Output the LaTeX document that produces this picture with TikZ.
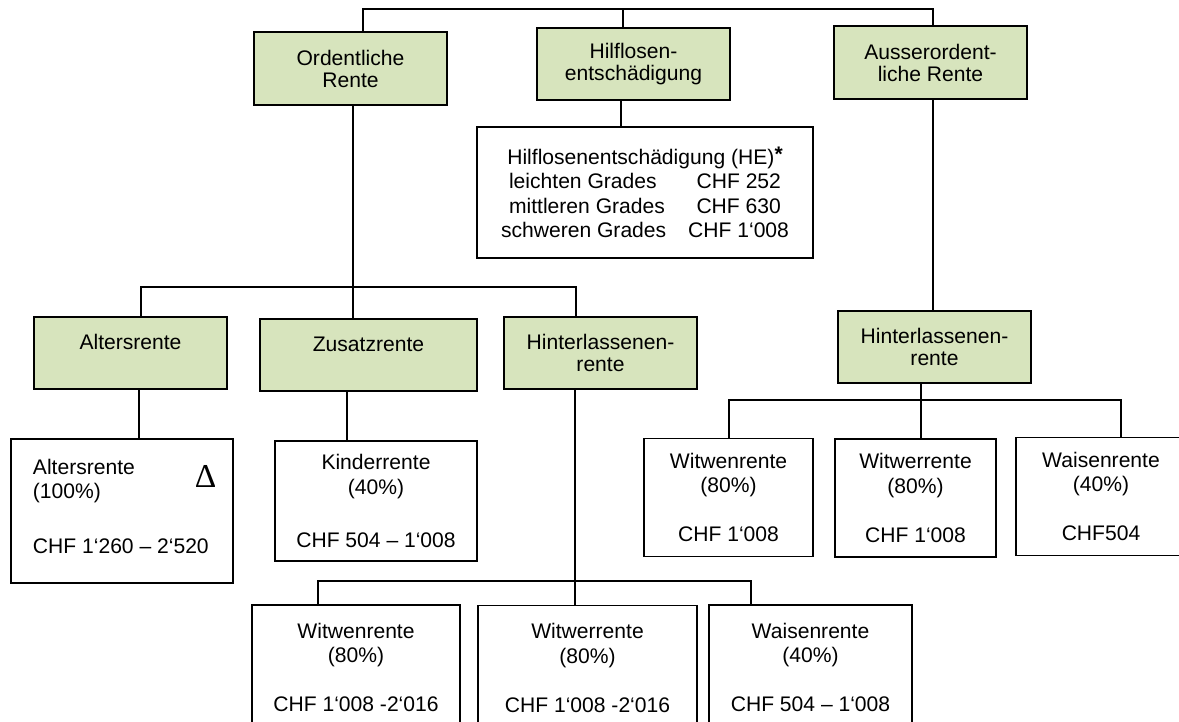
\documentclass[tikz,border=0pt]{standalone}
\usepackage{fontspec}
\setmainfont{Liberation Sans}
\newfontfamily\deltafont{Liberation Serif}
\definecolor{rentgruen}{RGB}{215,228,189}

\begin{document}
\begin{tikzpicture}[x=0.02cm,y=-0.02cm,line width=1.1pt,line cap=rect,
  rente/.style={draw,fill=rentgruen,align=center,inner sep=0pt,minimum width=3.86cm,minimum height=1.45cm,font=\fontsize{12}{12.5}\selectfont},
  betrag/.style={draw,fill=white,align=center,inner sep=0pt,font=\fontsize{12}{14}\selectfont}]
\useasboundingbox (0,0) rectangle (1179,722);
\clip (0,0) rectangle (1179,722);

\node[rente] (ordRente) at (350.5,68.5) {Ordentliche\\Rente};
\node[rente] (hilf) at (633.5,64) {Hilflosen-\\entschädigung};
\node[rente] (ausRente) at (930.5,62.5) {Ausserordent-\\liche Rente};
\node[rente] (alters) at (130.5,353) {Altersrente\\\mbox{}};
\node[rente,minimum width=4.34cm] (zusatz) at (368.5,355) {Zusatzrente\\\mbox{}};
\node[rente] (hinter) at (600.5,353) {Hinterlassenen-\\rente};
\node[rente] (hinterA) at (934.5,347) {Hinterlassenen-\\rente};

\node[betrag,minimum width=6.72cm,minimum height=2.62cm] (heBetrag) at (645,192.5)
  {Hilflosenentschädigung (HE)\raisebox{1.5pt}{\textbf{*}}\\leichten Grades\hspace{22.7pt}CHF 252\\mittleren Grades\hspace{18pt}CHF 630\\schweren Grades\hspace{12.5pt}CHF 1‘008};
\node[betrag,minimum width=4.44cm,minimum height=2.88cm] (altersBetrag) at (122,511) {};
\node[anchor=north west,align=left,inner sep=0pt,font=\fontsize{12}{14}\selectfont] (altersText) at (32,458)
  {Altersrente\\(100\%)\\[17pt]CHF 1‘260 – 2‘520};
\node[inner sep=0pt,font=\deltafont\fontsize{19}{19}\selectfont] (delta) at (205.5,476) {Δ};
\node[betrag,minimum width=4.04cm,minimum height=2.4cm] (kinder) at (376,501) {Kinderrente\\(40\%)\\[16pt]CHF 504 – 1‘008};

\node[betrag,minimum width=3.38cm,minimum height=2.36cm] (witwenA) at (728.5,497.5) {Witwenrente\\(80\%)\\[14pt]CHF 1‘008};
\node[betrag,minimum width=3.22cm,minimum height=2.36cm] (witwerA) at (915.5,498) {Witwerrente\\(80\%)\\[14pt]CHF 1‘008};
\node[betrag,minimum width=3.4cm,minimum height=2.36cm] (waisenA) at (1101,496.5) {Waisenrente\\(40\%)\\[14pt]CHF504};

\node[betrag,minimum width=4.16cm,minimum height=2.5cm] (witwen) at (356,667.5) {Witwenrente\\(80\%)\\[14pt]CHF 1‘008 -2‘016};
\node[betrag,minimum width=4.38cm,minimum height=2.5cm] (witwer) at (587.5,668) {Witwerrente\\(80\%)\\[14pt]CHF 1‘008 -2‘016};
\node[betrag,minimum width=4.06cm,minimum height=2.5cm] (waisen) at (810.5,667.5) {Waisenrente\\(40\%)\\[14pt]CHF 504 – 1‘008};

\coordinate (oben1) at (363,9);
\coordinate (oben2) at (623,9);
\coordinate (oben3) at (933,9);
\coordinate (mitte1) at (141,287);
\coordinate (mitte2) at (576,287);
\coordinate (rechts1) at (729,400);
\coordinate (rechts2) at (1121,400);
\coordinate (unten1) at (318,581);
\coordinate (unten2) at (751,581);
\draw (oben1) -- (oben3) (mitte1) -- (mitte2) (rechts1) -- (rechts2) (unten1) -- (unten2);
\foreach \p/\n in {oben1/ordRente,oben2/hilf,oben3/ausRente,mitte1/alters,mitte2/hinter,rechts1/witwenA,rechts2/waisenA,unten1/witwen,unten2/waisen}
  \draw (\p) -- (\p |- \n.north);
\foreach \x/\von/\nach in {621/hilf/heBetrag,353/ordRente/zusatz,933/ausRente/hinterA,139/alters/altersBetrag,347/zusatz/kinder,575/hinter/witwer,921/hinterA/witwerA}{
  \coordinate (senk) at (\x,0);
  \draw (\von.south -| senk) -- (\nach.north -| senk);
}
\end{tikzpicture}
\end{document}
